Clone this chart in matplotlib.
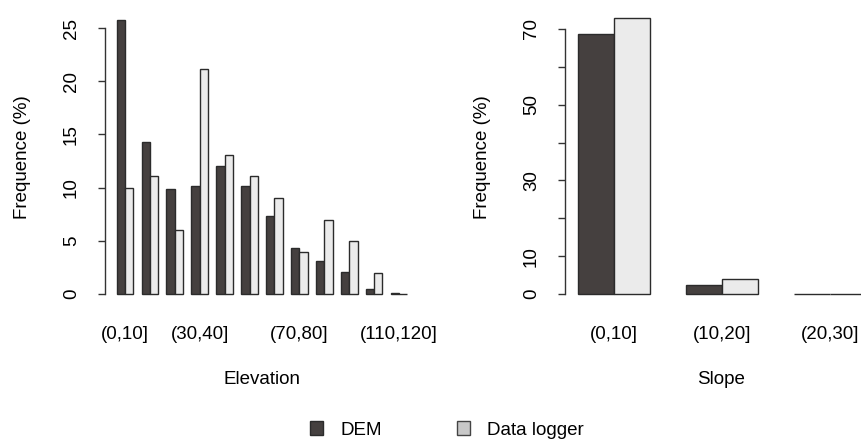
import matplotlib.pyplot as plt
from matplotlib.patches import Patch
import numpy as np

plt.rcParams['font.family'] = ['Liberation Sans', 'DejaVu Sans']

# Data (frequence in %)
elev_cats = ['(0,10]', '(10,20]', '(20,30]', '(30,40]', '(40,50]', '(50,60]',
             '(60,70]', '(70,80]', '(80,90]', '(90,100]', '(100,110]', '(110,120]']
dem_elev = [25.8, 14.3, 9.9, 10.2, 12.0, 10.2, 7.3, 4.3, 3.1, 2.1, 0.5, 0.1]
logger_elev = [10.0, 11.1, 6.0, 21.2, 13.1, 11.1, 9.0, 4.0, 7.0, 5.0, 2.0, 0.0]
elev_shown = [0, 3, 7, 11]   # labels kept on the axis

slope_cats = ['(0,10]', '(10,20]', '(20,30]']
dem_slope = [68.8, 2.4, 0.1]
logger_slope = [72.8, 4.0, 0.0]

dem_col = '#45403f'
log_col = '#ebebeb'
edge = '#2b2b2b'
fs = 13.5

W, H = 862, 441
fig = plt.figure(figsize=(W / 100, H / 100), dpi=100)

# grouped barplot, R style: 2 bars of width 1 then a gap of 1
def barplot(ax, cats, dem, logger, shown, yticks, ylabels, top):
    x = np.arange(len(cats)) * 3 + 1
    ax.bar(x, dem, 1, align='edge', color=dem_col, edgecolor=edge, linewidth=1)
    ax.bar(x + 1, logger, 1, align='edge', color=log_col, edgecolor=edge, linewidth=1)
    ax.set_xticks([x[i] + 1 for i in shown])
    ax.set_xticklabels([cats[i] for i in shown], fontsize=fs)
    ax.tick_params(axis='x', length=0, pad=15)
    ax.set_yticks(yticks)
    ax.set_yticklabels(ylabels, fontsize=fs)
    ax.tick_params(axis='y', length=5, width=1, pad=13, labelrotation=90, color='#333333')
    for lab in ax.get_yticklabels():
        lab.set_verticalalignment('center')
    for s in ['top', 'right', 'bottom']:
        ax.spines[s].set_visible(False)
    ax.spines['left'].set_bounds(0, top)
    ax.spines['left'].set_color('#333333')
    ax.spines['left'].set_linewidth(1)

# Left panel: Elevation
ax1 = fig.add_axes([105 / W, (H - 304.7) / H, 314 / W, 296.1 / H])
barplot(ax1, elev_cats, dem_elev, logger_elev, elev_shown,
        [0, 5, 10, 15, 20, 25], ['0', '5', '10', '15', '20', '25'], 25)
ax1.set_xlim(-0.4, 37.4)
ax1.set_ylim(-1.0, 26.83)

# Right panel: Slope
ax2 = fig.add_axes([565 / W, (H - 305) / H, 311 / W, 297.6 / H])
barplot(ax2, slope_cats, dem_slope, logger_slope, [0, 1, 2],
        [0, 10, 20, 30, 40, 50, 60, 70], ['0', '10', '', '30', '', '50', '', '70'], 70)
ax2.set_xlim(0.64, 9.28)
ax2.set_ylim(-2.9, 75.7)

fig.text(23 / W, 1 - 157 / H, 'Frequence (%)', rotation=90, ha='center', va='center', fontsize=fs)
fig.text(483 / W, 1 - 157 / H, 'Frequence (%)', rotation=90, ha='center', va='center', fontsize=fs)
fig.text(262 / W, 1 - 380 / H, 'Elevation', ha='center', va='center', fontsize=fs)
fig.text(721 / W, 1 - 380 / H, 'Slope', ha='center', va='center', fontsize=fs)

handles = [Patch(facecolor=dem_col, edgecolor=edge, label='DEM'),
           Patch(facecolor='#c8c8c8', edgecolor='#444444', label='Data logger')]
fig.legend(handles=handles, loc='center', bbox_to_anchor=(447 / W, 1 - 430 / H), ncol=2,
           frameon=False, fontsize=fs, handlelength=0.7, handleheight=0.7,
           handletextpad=0.9, columnspacing=4.0, borderpad=0, borderaxespad=0)

fig.savefig('out.png', dpi=100)
